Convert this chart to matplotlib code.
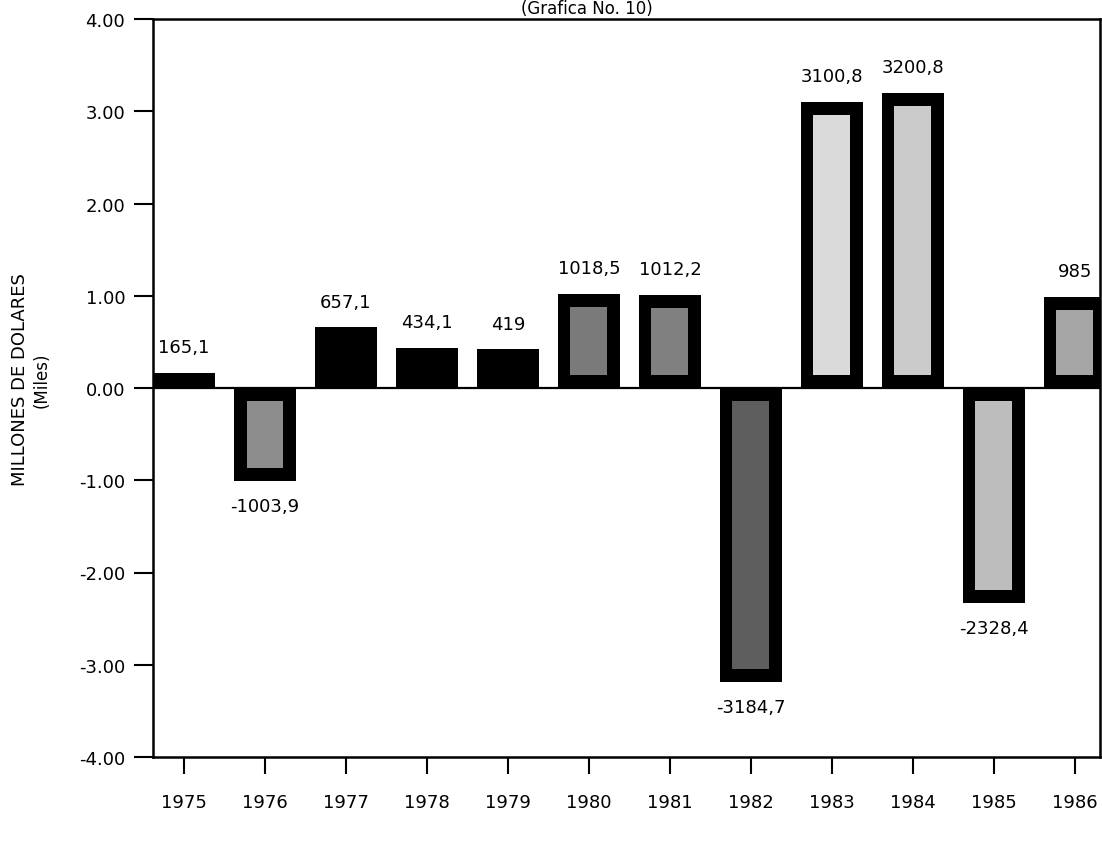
import matplotlib
matplotlib.use("Agg")
import matplotlib.pyplot as plt

# ---- data ----
years = [1975, 1976, 1977, 1978, 1979, 1980, 1981, 1982, 1983, 1984, 1985, 1986]
values = [165.1, -1003.9, 657.1, 434.1, 419.0, 1018.5, 1012.2, -3184.7, 3100.8, 3200.8, -2328.4, 985.0]
value_labels = ["165,1", "-1003,9", "657,1", "434,1", "419", "1018,5", "1012,2",
                "-3184,7", "3100,8", "3200,8", "-2328,4", "985"]
y_ticks = [4, 3, 2, 1, 0, -1, -2, -3, -4]
y_tick_labels = ["4.00", "3.00", "2.00", "1.00", "0.00", "-1.00", "-2.00", "-3.00", "-4.00"]
title = "(Grafica No. 10)"
ylabel_main = "MILLONES DE DOLARES"
ylabel_sub = "(Miles)"

# ---- style ----
inner_colors = [None, "#8c8c8c", None, None, None, "#7a7a7a", "#808080",
                "#5e5e5e", "#dadada", "#cbcbcb", "#bdbdbd", "#a5a5a5"]

plt.rcParams["font.family"] = ["DejaVu Sans"]
plt.rcParams["axes.unicode_minus"] = False

fig = plt.figure(figsize=(11.02, 8.53), dpi=100)
ax = fig.add_axes([153 / 1102, 1 - 758 / 853, (1100 - 153) / 1102, (758 - 20) / 853])

vals = [v / 1000.0 for v in values]
bar_w = 0.76
ax.bar(years, vals, width=bar_w, color="black", zorder=2)

inset = 0.14
for x, v, c in zip(years, vals, inner_colors):
    if c is None or abs(v) < 2 * inset:
        continue
    s = 1 if v > 0 else -1
    ax.bar([x], [v - 2 * s * inset], bottom=s * inset, width=bar_w * 0.6,
           color=c, zorder=3)

ax.axhline(0, color="black", lw=1.6, zorder=4)

for x, v, lab in zip(years, vals, value_labels):
    if v >= 0:
        ax.annotate(lab, (x, v), xytext=(0, 12), textcoords="offset points",
                    ha="center", va="bottom", fontsize=13)
    else:
        ax.annotate(lab, (x, v), xytext=(0, -12), textcoords="offset points",
                    ha="center", va="top", fontsize=13)

ax.set_xlim(1975 - 0.383, 1986 + 0.31)
ax.set_ylim(-4, 4)
ax.set_yticks(y_ticks)
ax.set_yticklabels(y_tick_labels, fontsize=13)
ax.set_xticks(years)
ax.set_xticklabels([str(y) for y in years], fontsize=13)
ax.tick_params(axis="y", direction="out", length=14, width=1.5, pad=6)
ax.tick_params(axis="x", direction="out", length=12, width=1.5, pad=14)
for sp in ax.spines.values():
    sp.set_linewidth(1.8)
    sp.set_color("black")

fig.text(587 / 1102, 1 - 9 / 853, title, ha="center", va="center", fontsize=12)
fig.text(20 / 1102, 1 - 380 / 853, ylabel_main, rotation=90, ha="center",
         va="center", fontsize=13)
fig.text(42 / 1102, 1 - 380 / 853, ylabel_sub, rotation=90, ha="center",
         va="center", fontsize=12)

fig.savefig("out.png", dpi=100, facecolor="white")
